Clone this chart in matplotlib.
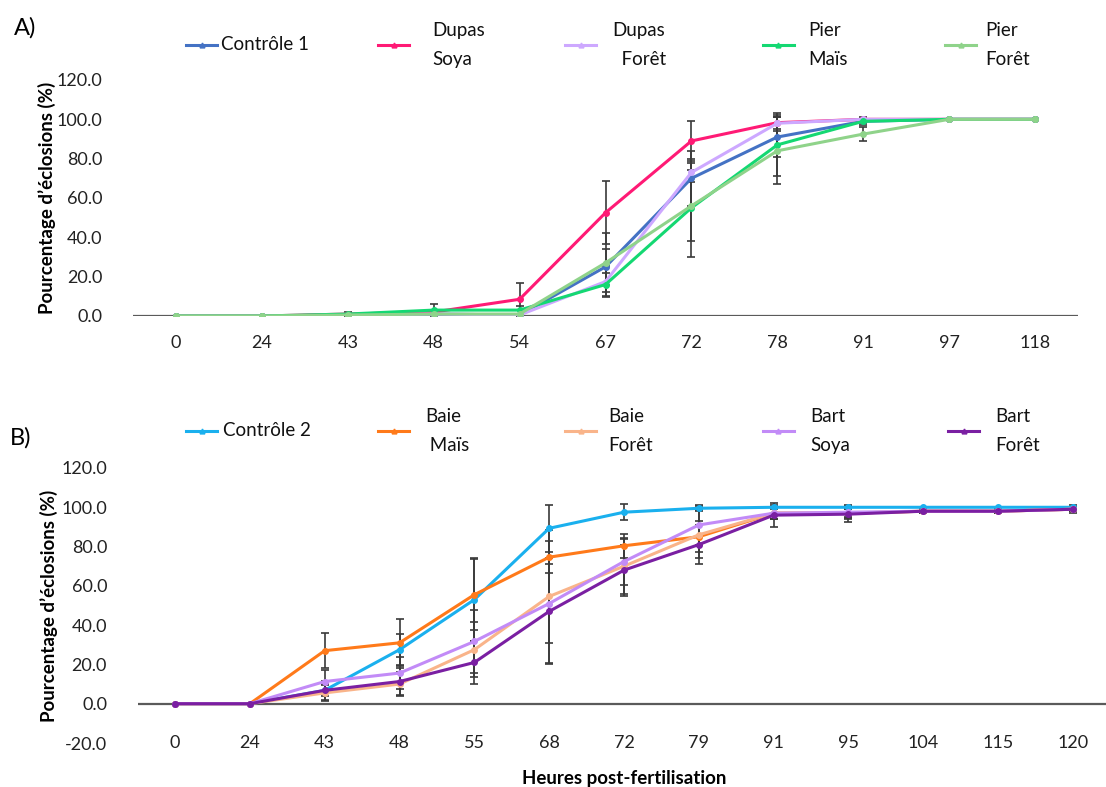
import numpy as np
import matplotlib
matplotlib.use('Agg')
import matplotlib.pyplot as plt
from matplotlib.lines import Line2D

plt.rcParams['font.family'] = ['Lato', 'DejaVu Sans']

# Panel A data
hours_a = ['0', '24', '43', '48', '54', '67', '72', '78', '91', '97', '118']
labels_a = ['Contrôle 1', 'Dupas\nSoya', 'Dupas\n  Forêt', 'Pier\nMaïs', 'Pier\nForêt']
controle1 = [0, 0, 0.5, 1, 0.5, 25, 70, 91, 99, 100, 100]
dupas_soya = [0, 0, 1, 2, 8.5, 52.5, 89, 98.3, 100, 100, 100]
dupas_foret = [0, 0, 0.5, 1, 0.5, 17.5, 73, 98, 100, 100, 100]
pier_mais = [0, 0, 1, 3, 3, 16, 55, 87, 99, 100, 100]
pier_foret = [0, 0, 0.5, 1, 1, 27, 56, 84, 92.5, 100, 100]
controle1_err = [0, 0, 0, 0, 0, 9, 14, 10, 2, 0, 0]
dupas_soya_err = [0, 0, 0, 1, 8.5, 16, 10, 3, 0, 0, 0]
dupas_foret_err = [0, 0, 0, 0, 0, 8, 5, 4, 0, 0, 0]
pier_mais_err = [0, 0, 1, 3, 2, 6, 25, 16, 1, 0, 0]
pier_foret_err = [0, 0, 0, 0, 0, 15, 18, 17, 3.5, 0, 0]

# Panel B data
hours_b = ['0', '24', '43', '48', '55', '68', '72', '79', '91', '95', '104', '115', '120']
labels_b = ['Contrôle 2', 'Baie\n Maïs', 'Baie\nForêt', 'Bart\nSoya', 'Bart\nForêt']
controle2 = [0, 0, 6.8, 27.5, 53, 89.3, 97.5, 99.5, 100, 100, 100, 100, 100]
baie_mais = [0, 0, 27, 31, 55.5, 74.6, 80.4, 85, 97, 97, 98, 98, 99]
baie_foret = [0, 0, 5.5, 10, 27.5, 54.6, 70, 86, 97, 97, 98, 98, 99]
bart_soya = [0, 0, 11.3, 15.6, 31.7, 51, 72.4, 91, 97, 97.5, 98, 98, 99]
bart_foret = [0, 0, 6.8, 11.3, 21, 47, 68, 81, 96, 96.5, 98, 98, 99]
controle2_err = [0, 0, 3, 8, 21, 12, 4, 1, 1, 1, 0, 0, 0]
baie_mais_err = [0, 0, 9, 12, 18, 8, 6, 8, 3, 2, 1, 1, 1]
baie_foret_err = [0, 0, 4, 6, 14, 34, 14, 12, 3, 3, 1, 1, 1]
bart_soya_err = [0, 0, 6, 8, 16, 20, 12, 10, 3, 3, 1, 1, 1]
bart_foret_err = [0, 0, 5, 7, 11, 27, 13, 10, 6, 4, 1, 1, 2]

colors_a = ['#4472C4', '#FF1A75', '#CDA8FF', '#14D872', '#8FD38A']
colors_b = ['#1AB0EE', '#FF7A1A', '#F9B48A', '#C28BF7', '#7A1FA2']

W, H = 1106, 787
fig = plt.figure(figsize=(W / 100, H / 100), dpi=100)


def draw_panel(ax, hours, series, errors, colors, ylo, xpad):
    x = np.arange(len(hours))
    for vals, err, c in zip(series, errors, colors):
        vals = np.array(vals, dtype=float)
        err = np.array(err, dtype=float)
        m = err > 0
        ax.errorbar(x[m], vals[m], yerr=err[m], fmt='none', ecolor='#3a3a3a',
                    elinewidth=1.2, capsize=3, capthick=1.2, zorder=2)
    for vals, c in zip(series, colors):
        ax.plot(x, vals, color=c, lw=2.2, marker='o', ms=4, zorder=3)
    ax.set_xlim(-0.5, len(hours) - 0.5)
    ax.set_ylim(ylo, 120)
    ax.set_xticks(x)
    ax.set_xticklabels(hours)
    ax.set_yticks(np.arange(ylo, 121, 20))
    ax.set_yticklabels(['%.1f' % v for v in np.arange(ylo, 121, 20)])
    for s in ['top', 'right', 'left', 'bottom']:
        ax.spines[s].set_visible(False)
    ax.axhline(0, color='#5a5a5a', lw=1.6, zorder=1)
    ax.tick_params(axis='both', length=0, labelsize=13, colors='#222222')
    ax.tick_params(axis='y', pad=22)
    ax.tick_params(axis='x', pad=xpad)
    ax.set_ylabel('Pourcentage d\u2019éclosions (%)', fontsize=13.5, fontweight='bold')
    ax.yaxis.set_label_coords(-0.082, 0.5)


def draw_legend(labels, colors, hx, ty, tx):
    for lab, c, x0, x1 in zip(labels, colors, hx, tx):
        fig.add_artist(Line2D([x0 / W, (x0 + 31) / W], [1 - ty / H, 1 - ty / H],
                              color=c, lw=2.2))
        fig.add_artist(Line2D([(x0 + 15.5) / W], [1 - ty / H], color=c,
                              marker='^', ms=3.5, lw=0))
        fig.text(x1 / W, 1 - ty / H, lab, fontsize=13.5, va='center', ha='left',
                 linespacing=1.9, color='#111111')


ax1 = fig.add_axes([133 / W, 1 - 316 / H, 945 / W, 236 / H])
draw_panel(ax1, hours_a,
           [controle1, dupas_soya, dupas_foret, pier_mais, pier_foret],
           [controle1_err, dupas_soya_err, dupas_foret_err, pier_mais_err, pier_foret_err],
           colors_a, 0, 14)

ax2 = fig.add_axes([137.6 / W, 1 - 743 / H, 972.8 / W, 275 / H])
draw_panel(ax2, hours_b,
           [controle2, baie_mais, baie_foret, bart_soya, bart_foret],
           [controle2_err, baie_mais_err, baie_foret_err, bart_soya_err, bart_foret_err],
           colors_b, -20, -6)
ax2.set_xlabel('Heures post-fertilisation', fontsize=13.5, fontweight='bold', labelpad=14)

draw_legend(labels_a, colors_a, [186, 378, 565, 763, 945], 45, [221, 432, 612, 808, 985])
draw_legend(labels_b, colors_b, [186, 378, 565, 763, 948], 431, [223, 425, 608, 810, 995])

fig.text(14 / W, 1 - 28 / H, 'A)', fontsize=17, va='center', ha='left')
fig.text(10 / W, 1 - 438 / H, 'B)', fontsize=17, va='center', ha='left')

fig.savefig('out.png', dpi=100)
